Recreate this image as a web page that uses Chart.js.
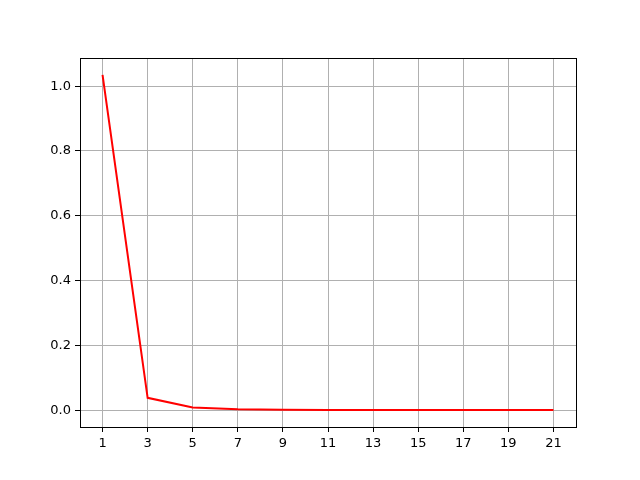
<!DOCTYPE html>
<html>
<head>
<meta charset="utf-8">
<script src="https://cdn.jsdelivr.net/npm/chart.js"></script>
<style>
  html, body { margin: 0; padding: 0; background: #fff; }
  #wrap { width: 640px; height: 480px; }
</style>
</head>
<body>
<div id="wrap"><canvas id="myChart" width="640" height="480"></canvas></div>
<script>
// values
let xValues = [1, 3, 5, 7, 9, 11, 13, 15, 17, 19, 21];
let yValues = [1.035, 0.038, 0.008, 0.003, 0.0015, 0.0008, 0.0005, 0.0003, 0.0002, 0.0001, 0.0001];
let xTicks = [1, 3, 5, 7, 9, 11, 13, 15, 17, 19, 21];
let yTicks = [0.0, 0.2, 0.4, 0.6, 0.8, 1.0];

let points = xValues.map((x, i) => ({ x: x, y: yValues[i] }));

// black frame around the plot area, like the axes box
const frame = {
    id: 'frame',
    afterDraw(chart) {
        const a = chart.chartArea;
        const c = chart.ctx;
        c.save();
        c.strokeStyle = '#000';
        c.lineWidth = 1;
        c.strokeRect(Math.round(a.left) + 0.5, Math.round(a.top) + 0.5,
            Math.round(a.right - a.left), Math.round(a.bottom - a.top));
        c.restore();
    }
};

let ctx = document.getElementById('myChart');
new Chart(ctx, {
    type: 'line',
    data: {
        datasets: [{
            data: points,
            borderColor: '#ff0000',
            borderWidth: 2,
            pointRadius: 0,
            tension: 0,
            fill: false
        }]
    },
    options: {
        responsive: false,
        animation: false,
        layout: { padding: { left: 0, top: 58, right: 64, bottom: 0 } },
        plugins: { legend: { display: false }, tooltip: { enabled: false } },
        scales: {
            x: {
                type: 'linear',
                min: 0,
                max: 22,
                afterBuildTicks: scale => { scale.ticks = xTicks.map(v => ({ value: v })); },
                afterFit: scale => { scale.height = 53; },
                grid: { color: '#b0b0b0', lineWidth: 1, tickColor: '#000', tickLength: 5 },
                border: { color: '#000' },
                ticks: {
                    color: '#000',
                    padding: 4,
                    maxRotation: 0,
                    font: { family: 'DejaVu Sans', size: 13 },
                    callback: v => String(v)
                }
            },
            y: {
                min: -0.052,
                max: 1.087,
                afterBuildTicks: scale => { scale.ticks = yTicks.map(v => ({ value: v })); },
                afterFit: scale => { scale.width = 80; },
                grid: { color: '#b0b0b0', lineWidth: 1, tickColor: '#000', tickLength: 5 },
                border: { color: '#000' },
                ticks: {
                    color: '#000',
                    padding: 4,
                    font: { family: 'DejaVu Sans', size: 13 },
                    callback: v => v.toFixed(1)
                }
            }
        }
    },
    plugins: [frame]
});
</script>
</body>
</html>
